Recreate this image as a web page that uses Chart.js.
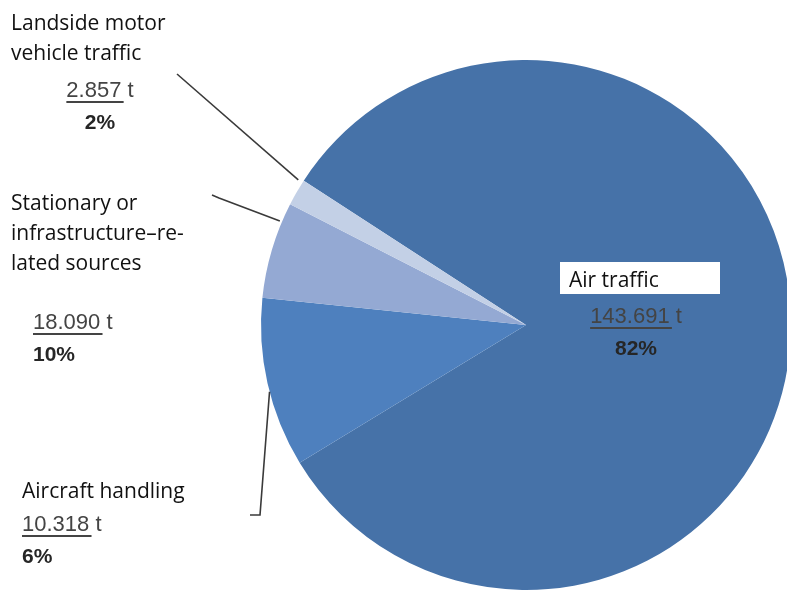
<!DOCTYPE html>
<html>
<head>
<meta charset="utf-8">
<script src="https://cdn.jsdelivr.net/npm/chart.js@4"></script>
<style>
  html, body { margin: 0; padding: 0; background: #fff; overflow: hidden; }
  #wrap { position: absolute; left: 0; top: 0; width: 800px; height: 600px; }
</style>
</head>
<body>
<div id="wrap"><canvas id="pieChart" width="800" height="600"></canvas></div>
<script>
// =========================================
// DATA (order = slices clockwise, starting with Air traffic)
// =========================================
const categories = ['Air traffic', 'Stationary or infrastructure–related sources', 'Aircraft handling', 'Landside motor vehicle traffic'];
const tonnes = [143691, 18090, 10318, 2857];
const tonneLabels = ['143.691 t', '18.090 t', '10.318 t', '2.857 t'];
const percentLabels = ['82%', '10%', '6%', '2%'];
const sliceColors = ['#4672a8', '#4e80be', '#94a9d3', '#c3d0e6'];

// text lines of each label block (same order as categories)
const nameLines = [
    ['Air traffic'],
    ['Stationary or', 'infrastructure–re-', 'lated sources'],
    ['Aircraft handling'],
    ['Landside motor', 'vehicle traffic']
];

// =========================================
// PLUGIN: labels + leader lines
// =========================================
const labelPlugin = {
    id: 'labelPlugin',
    afterDraw(chart) {
        const ctx = chart.ctx;
        const arcs = chart.getDatasetMeta(0).data;

        // point on the pie edge, frac = position inside the slice
        function edge(i, frac) {
            const a = arcs[i];
            const ang = a.startAngle + (a.endAngle - a.startAngle) * frac;
            return [a.x + Math.cos(ang) * a.outerRadius, a.y + Math.sin(ang) * a.outerRadius];
        }

        ctx.save();
        ctx.strokeStyle = '#3a3a3a';
        ctx.lineWidth = 1.6;

        // leader: Landside
        let p = edge(3, 0.9);
        ctx.beginPath();
        ctx.moveTo(177, 74);
        ctx.lineTo(p[0] - 4, p[1] - 3);
        ctx.stroke();

        // leader: Stationary
        p = edge(2, 0.8);
        ctx.beginPath();
        ctx.moveTo(212, 195);
        ctx.lineTo(219, 198);
        ctx.lineTo(p[0] - 2, p[1] - 1);
        ctx.stroke();

        // leader: Aircraft handling
        p = edge(1, 0.45);
        ctx.beginPath();
        ctx.moveTo(250, 515);
        ctx.lineTo(260, 515);
        ctx.lineTo(p[0], p[1]);
        ctx.stroke();

        // white box behind "Air traffic"
        ctx.fillStyle = '#ffffff';
        ctx.fillRect(560, 262, 160, 32);

        const nameFont = '21px "Open Sans", "Noto Sans", sans-serif';
        const numFont = '22px "Liberation Sans", "Open Sans", sans-serif';
        const pctFont = 'bold 21px "Liberation Sans", "Open Sans", sans-serif';

        function block(i, x, y0, numX, numY, pctY, align) {
            ctx.fillStyle = '#111';
            ctx.font = nameFont;
            ctx.textAlign = 'left';
            ctx.textBaseline = 'alphabetic';
            nameLines[i].forEach((t, k) => ctx.fillText(t, x, y0 + k * 30));

            ctx.font = numFont;
            ctx.fillStyle = '#444';
            ctx.textAlign = align;
            ctx.fillText(tonneLabels[i], numX, numY);
            const w = ctx.measureText(tonneLabels[i]).width;
            const ux = align === 'center' ? numX - w / 2 : numX;
            ctx.fillRect(ux, numY + 4, w - 10, 2);

            ctx.font = pctFont;
            ctx.fillStyle = '#262626';
            ctx.fillText(percentLabels[i], numX, pctY);
        }

        block(3, 11, 30, 100, 97, 129, 'center');
        block(1, 11, 210, 33, 329, 361, 'left');
        block(2, 22, 498, 22, 531, 563, 'left');
        block(0, 569, 287, 636, 323, 355, 'center');

        ctx.restore();
    }
};

// =========================================
// PIE CHART
// =========================================
const ctx1 = document.getElementById('pieChart').getContext('2d');

new Chart(ctx1, {
    type: 'pie',
    data: {
        labels: categories,
        datasets: [
            {
                data: tonnes,
                backgroundColor: sliceColors,
                borderWidth: 0
            }
        ]
    },
    options: {
        responsive: false,
        animation: false,
        rotation: -57,
        layout: { padding: { left: 261, right: 9, top: 60, bottom: 10 } },
        plugins: {
            legend: { display: false },
            tooltip: { enabled: false }
        }
    },
    plugins: [labelPlugin]
});
</script>
</body>
</html>
